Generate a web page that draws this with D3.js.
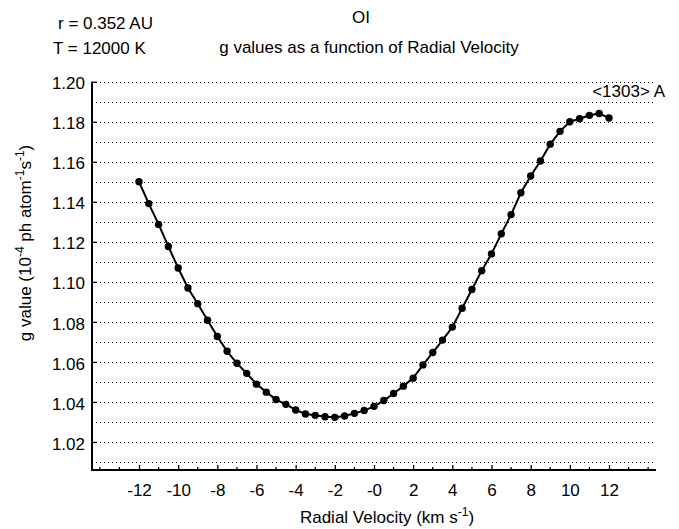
<!DOCTYPE html>
<html>
<head>
<meta charset="utf-8">
<script src="https://cdn.jsdelivr.net/npm/d3@7"></script>
<style>
  html, body { margin: 0; padding: 0; background: #fff; }
  svg text { font-family: "Liberation Sans", Arial, Helvetica, sans-serif; fill: #000; }
</style>
</head>
<body>
<svg id="chart" width="679" height="529"></svg>
<script>
// radial velocity grid (km/s) and g values (1e-4 ph atom^-1 s^-1)
const velocities = [-12, -11.5, -11, -10.5, -10, -9.5, -9, -8.5, -8, -7.5, -7, -6.5, -6, -5.5, -5, -4.5,
  -4, -3.5, -3, -2.5, -2, -1.5, -1, -0.5, 0, 0.5, 1, 1.5, 2, 2.5, 3, 3.5,
  4, 4.5, 5, 5.5, 6, 6.5, 7, 7.5, 8, 8.5, 9, 9.5, 10, 10.5, 11, 11.5, 12];
const gValues = [1.1500, 1.1391, 1.1287, 1.1177, 1.1069, 1.0969, 1.0891, 1.0808, 1.0727, 1.0653, 1.0593, 1.0543, 1.0489, 1.0449, 1.0412, 1.0388,
  1.0360, 1.0340, 1.0333, 1.0326, 1.0323, 1.0330, 1.0343, 1.0357, 1.0378, 1.0407, 1.0442, 1.0479, 1.0519, 1.0585, 1.0647, 1.0709,
  1.0774, 1.0868, 1.0962, 1.1056, 1.1140, 1.1240, 1.1336, 1.1445, 1.1529, 1.1604, 1.1688, 1.1752, 1.1800, 1.1815, 1.1832, 1.1841, 1.1819];

const xTickValues = [-12, -10, -8, -6, -4, -2, 0, 2, 4, 6, 8, 10, 12];
const xTickLabels = ["-12", "-10", "-8", "-6", "-4", "-2", "-0", "2", "4", "6", "8", "10", "12"];
const xMinorTicks = [-14, -13, -11, -9, -7, -5, -3, -1, 1, 3, 5, 7, 9, 11, 13, 14];
const yTickValues = [1.02, 1.04, 1.06, 1.08, 1.10, 1.12, 1.14, 1.16, 1.18, 1.20];
const yGridValues = [1.01, 1.02, 1.03, 1.04, 1.05, 1.06, 1.07, 1.08, 1.09, 1.10,
  1.11, 1.12, 1.13, 1.14, 1.15, 1.16, 1.17, 1.18, 1.19, 1.20];

const data = velocities.map((v, i) => ({x: v, y: gValues[i]}));

const svg = d3.select("#chart");
const fontSize = 17;
const xMin = -14.4, xMax = 14.4, yMin = 1.006, yMax = 1.20;

const x = d3.scaleLinear([xMin, xMax], [92, 656]);
const y = d3.scaleLinear([yMin, yMax], [470, 81.7]);

// dotted horizontal grid
svg.append("g")
  .selectAll("line")
  .data(yGridValues)
  .join("line")
  .attr("x1", x(xMin))
  .attr("x2", x(xMax))
  .attr("y1", d => Math.round(y(d)) + 0.5)
  .attr("y2", d => Math.round(y(d)) + 0.5)
  .attr("stroke", "#000")
  .attr("stroke-width", 1)
  .attr("stroke-dasharray", "1,3");

// bottom axis, ticks pointing up into the plot
const gx = svg.append("g")
  .attr("transform", `translate(0,${y(yMin)})`)
  .call(d3.axisBottom(x).tickValues(xTickValues).tickFormat((d, i) => xTickLabels[i]).tickSize(-5).tickPadding(14));
gx.select(".domain").remove();
gx.selectAll(".tick line").attr("stroke", "#000").attr("stroke-width", 1.3);
gx.selectAll(".tick text").attr("font-size", fontSize).attr("font-family", null);

gx.selectAll(".minor")
  .data(xMinorTicks)
  .join("line")
  .attr("class", "minor")
  .attr("x1", d => x(d)).attr("x2", d => x(d))
  .attr("y1", 0).attr("y2", -3)
  .attr("stroke", "#000")
  .attr("stroke-width", 1.3);

// left axis, ticks pointing right
const gy = svg.append("g")
  .attr("transform", `translate(${x(xMin)},0)`)
  .call(d3.axisLeft(y).tickValues(yTickValues).tickFormat(d3.format(".2f")).tickSize(-5).tickPadding(7));
gy.select(".domain").remove();
gy.selectAll(".tick line").attr("stroke", "#000").attr("stroke-width", 1.3);
gy.selectAll(".tick text").attr("font-size", fontSize).attr("font-family", null).attr("dy", "0.42em");

// axis lines drawn on top
svg.append("path")
  .attr("d", `M${x(xMin)},${y(yMax)}V${y(yMin)}H${x(xMax)}`)
  .attr("fill", "none")
  .attr("stroke", "#000")
  .attr("stroke-width", 2);

// curve and points
const line = d3.line(d => x(d.x), d => y(d.y));
svg.append("path")
  .datum(data)
  .attr("d", line)
  .attr("fill", "none")
  .attr("stroke", "#000")
  .attr("stroke-width", 2);

svg.append("g")
  .selectAll("circle")
  .data(data)
  .join("circle")
  .attr("cx", d => x(d.x))
  .attr("cy", d => y(d.y))
  .attr("r", 3.7)
  .attr("fill", "#000");

// header texts
svg.append("text").attr("x", 58).attr("y", 29).attr("font-size", fontSize).text("r = 0.352 AU");
svg.append("text").attr("x", 53).attr("y", 54).attr("font-size", fontSize).text("T = 12000 K");
svg.append("text").attr("x", 361).attr("y", 23).attr("text-anchor", "middle").attr("font-size", fontSize).text("OI");
svg.append("text").attr("x", 369).attr("y", 53).attr("text-anchor", "middle").attr("font-size", fontSize)
  .text("g values as a function of Radial Velocity");
svg.append("text").attr("x", 665).attr("y", 97).attr("text-anchor", "end").attr("font-size", fontSize).text("<1303> A");

// x axis title
const xt = svg.append("text").attr("x", 387).attr("y", 523).attr("text-anchor", "middle").attr("font-size", fontSize);
xt.append("tspan").text("Radial Velocity (km  s");
xt.append("tspan").attr("font-size", 12).attr("dy", -7).text("-1");
xt.append("tspan").attr("dy", 7).text(")");

// y axis title
const yt = svg.append("text")
  .attr("transform", "translate(31,243) rotate(-90)")
  .attr("text-anchor", "middle")
  .attr("font-size", fontSize);
yt.append("tspan").text("g value (10");
yt.append("tspan").attr("font-size", 12).attr("dy", -7).text("-4");
yt.append("tspan").attr("dy", 7).text(" ph atom");
yt.append("tspan").attr("font-size", 12).attr("dy", -7).text("-1");
yt.append("tspan").attr("dy", 7).text("s");
yt.append("tspan").attr("font-size", 12).attr("dy", -7).text("-1");
yt.append("tspan").attr("dy", 7).text(")");
</script>
</body>
</html>
